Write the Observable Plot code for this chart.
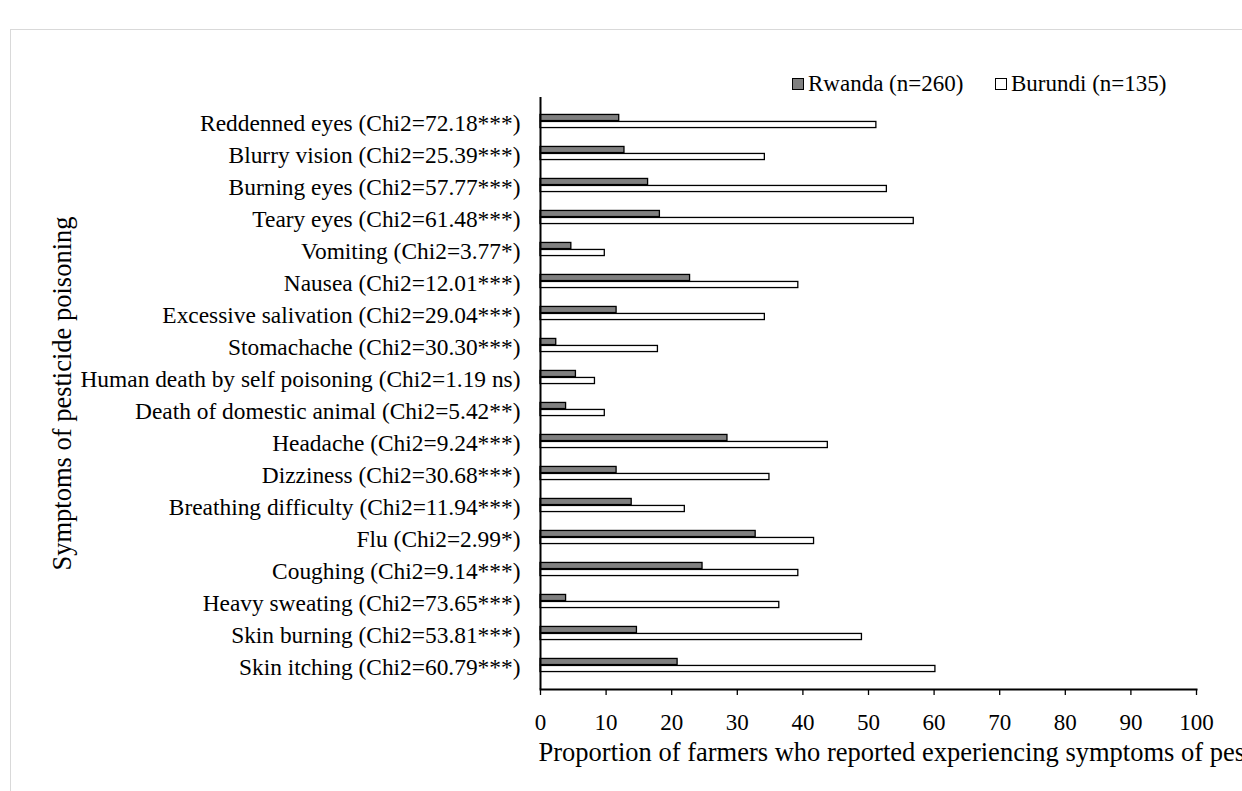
<!DOCTYPE html>
<html>
<head>
<meta charset="utf-8">
<script src="https://cdn.jsdelivr.net/npm/d3@7"></script>
<script src="https://cdn.jsdelivr.net/npm/@observablehq/plot@0.6"></script>
<style>
  body { margin: 0; background: #fff; font-family: "Liberation Serif", "Times New Roman", serif; }
  #wrap { position: relative; width: 1242px; height: 791px; overflow: hidden; background: #fff; }
  #frame { position: absolute; left: 10px; top: 29px; right: -5px; bottom: -5px;
           border-top: 1.5px solid #d9d9d9; border-left: 1.5px solid #d9d9d9; pointer-events: none; }
  #legend { position: relative; height: 97px; }
  .item { position: absolute; top: 71px; font-size: 23px; line-height: 26px; display: flex; align-items: center; color: #000; white-space: nowrap; }
  .sw { width: 12px; height: 12px; border: 1.3px solid #000; margin-right: 4px; box-sizing: border-box; }
  #chart svg { display: block; }
</style>
</head>
<body>
<div id="wrap">
  <div id="frame"></div>
  <div id="legend"></div>
  <div id="chart"></div>
</div>
<script>
const symptoms = [
  "Reddenned eyes (Chi2=72.18***)",
  "Blurry vision (Chi2=25.39***)",
  "Burning eyes (Chi2=57.77***)",
  "Teary eyes (Chi2=61.48***)",
  "Vomiting (Chi2=3.77*)",
  "Nausea (Chi2=12.01***)",
  "Excessive salivation (Chi2=29.04***)",
  "Stomachache (Chi2=30.30***)",
  "Human death by self poisoning (Chi2=1.19 ns)",
  "Death of domestic animal (Chi2=5.42**)",
  "Headache (Chi2=9.24***)",
  "Dizziness (Chi2=30.68***)",
  "Breathing difficulty (Chi2=11.94***)",
  "Flu (Chi2=2.99*)",
  "Coughing (Chi2=9.14***)",
  "Heavy sweating (Chi2=73.65***)",
  "Skin burning (Chi2=53.81***)",
  "Skin itching (Chi2=60.79***)"
];
const rwanda  = [12.0, 12.8, 16.4, 18.2, 4.7, 22.8, 11.6, 2.4, 5.4, 3.9, 28.5, 11.6, 13.9, 32.8, 24.7, 3.9, 14.7, 20.9];
const burundi = [51.2, 34.2, 52.8, 56.9, 9.8, 39.3, 34.2, 17.9, 8.3, 9.8, 43.8, 34.9, 22.0, 41.7, 39.3, 36.4, 49.0, 60.2];
const seriesNames = ["Rwanda (n=260)", "Burundi (n=135)"];
const seriesFill = ["#808080", "#ffffff"];
const xTicks = [0, 10, 20, 30, 40, 50, 60, 70, 80, 90, 100];
const xTitle = "Proportion of farmers who reported experiencing symptoms of pesticide poisoning";
const yTitle = "Symptoms of pesticide poisoning";

// legend (HTML, above the SVG)
const legend = document.getElementById("legend");
const legendLeft = [792, 995];
seriesNames.forEach((name, i) => {
  const item = document.createElement("div");
  item.className = "item";
  item.style.left = legendLeft[i] + "px";
  const sw = document.createElement("span");
  sw.className = "sw";
  sw.style.background = seriesFill[i];
  const t = document.createElement("span");
  t.textContent = name;
  item.appendChild(sw);
  item.appendChild(t);
  legend.appendChild(item);
});

const rwData = symptoms.map((s, i) => ({symptom: s, value: rwanda[i]}));
const buData = symptoms.map((s, i) => ({symptom: s, value: burundi[i]}));

const height = 694, marginTop = 0, marginBottom = 102;
const bw = (height - marginTop - marginBottom) / symptoms.length;
const barH = 7;

const chart = Plot.plot({
  width: 1242,
  height,
  marginTop,
  marginBottom,
  marginLeft: 540,
  marginRight: 46,
  style: {fontFamily: "'Liberation Serif', 'Times New Roman', serif", fontSize: "23px", color: "#000", background: "transparent", overflow: "visible"},
  x: {domain: [0, 100]},
  y: {domain: symptoms, padding: 0},
  marks: [
    Plot.barX(rwData, {x: "value", y: "symptom", insetTop: bw / 2 - barH, insetBottom: bw / 2,
      fill: seriesFill[0], stroke: "#000", strokeWidth: 1.3}),
    Plot.barX(buData, {x: "value", y: "symptom", insetTop: bw / 2, insetBottom: bw / 2 - barH,
      fill: seriesFill[1], stroke: "#000", strokeWidth: 1.3}),
    Plot.axisY({tickSize: 0, tickPadding: 20, label: null, fill: "#000", fontSize: 23.4, dy: 2}),
    Plot.axisX({ticks: xTicks, tickSize: 6, tickPadding: 18, label: null, stroke: "#000", strokeWidth: 1.3, fill: "#000", fontSize: 23, tickFormat: d => String(d)}),
    Plot.frame({anchor: "bottom", stroke: "#000", strokeWidth: 2}),
    Plot.ruleX([0], {stroke: "#000", strokeWidth: 2}),
    Plot.text([xTitle], {frameAnchor: "bottom-left", dx: -2, dy: 63, textAnchor: "start", lineAnchor: "middle", fill: "#000", fontSize: 26.5}),
    Plot.text([yTitle], {frameAnchor: "left", dx: -478, rotate: -90, textAnchor: "middle", lineAnchor: "middle", fill: "#000", fontSize: 26.5})
  ]
});
document.getElementById("chart").appendChild(chart);
</script>
</body>
</html>
